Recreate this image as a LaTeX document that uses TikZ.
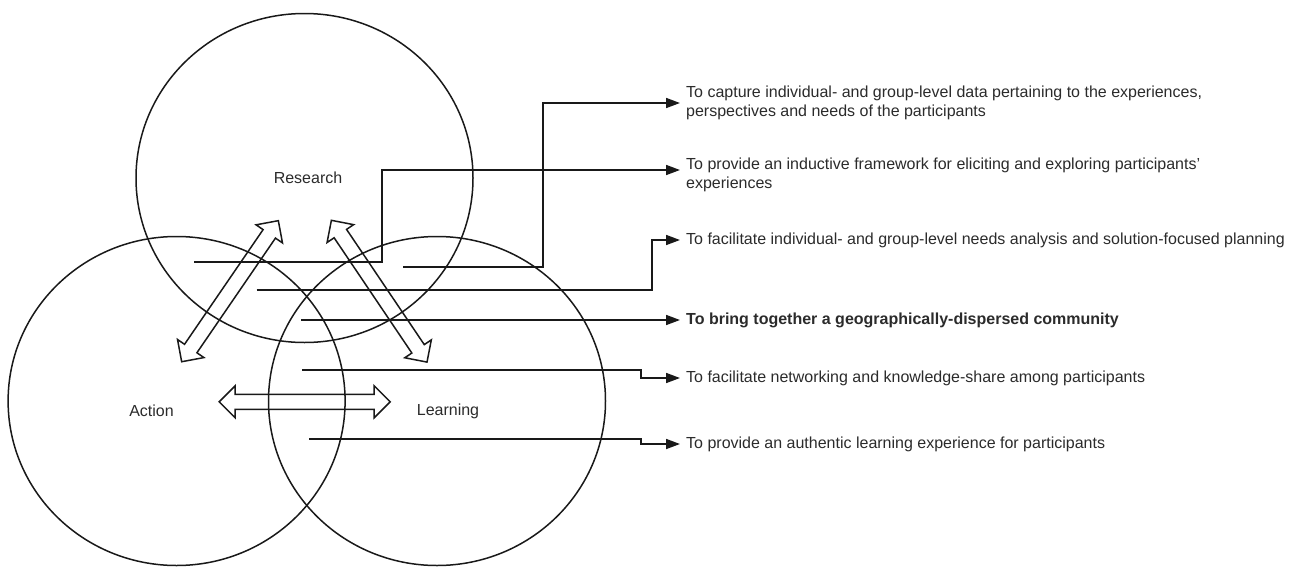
\documentclass[tikz,border=0pt]{standalone}
\usepackage{fontspec}
\setmainfont{Liberation Sans}
\usetikzlibrary{arrows.meta,shapes.geometric}
\definecolor{txt}{HTML}{2B2B2B}
\begin{document}
\begin{tikzpicture}[x=1pt,y=-1pt,
  ring/.style={ellipse, draw=black!90, line width=1.5pt, minimum width=337pt, minimum height=329pt, inner sep=0pt},
  lbl/.style={font=\fontsize{16}{19}\selectfont, text=txt, inner sep=0pt},
  goal/.style={anchor=west, font=\fontsize{16}{19}\selectfont, text=txt, inner xsep=6pt, inner ysep=0pt, align=left},
  conn/.style={draw=black!90, line width=1.7pt, -{Triangle[length=14pt,width=10pt]}},
  hollowarrow/.pic={\draw[line width=1.5pt, black!90, line join=miter]
    (-85.5pt,0pt) -- (-69.5pt,16pt) -- (-69.5pt,7.5pt) -- (69.5pt,7.5pt) -- (69.5pt,16pt) -- (85.5pt,0pt)
    -- (69.5pt,-16pt) -- (69.5pt,-7.5pt) -- (-69.5pt,-7.5pt) -- (-69.5pt,-16pt) -- cycle;}
]
\useasboundingbox (0,0) rectangle (1291,568);

% circles
\node[ring] (research) at (304.5,178) {};
\node[ring] (action) at (176.6,401) {};
\node[ring] (learning) at (437,401) {};

\node[lbl] (lres) at (308,177.5) {Research};
\node[lbl] (lact) at (151.5,411) {Action};
\node[lbl] (llea) at (448,411) {Learning};

% hollow double arrows
\pic (ha1) [rotate=55.58] at (230,291.2) {hollowarrow};
\pic (ha2) [rotate=124] at (379.2,291.2) {hollowarrow};
\pic (ha3) at (304.7,401.8) {hollowarrow};

% goal texts
\node[goal] (t1) at (680,103) {To capture individual- and group-level data pertaining to the experiences,\\perspectives and needs of the participants};
\node[goal] (t2) at (680,175) {To provide an inductive framework for eliciting and exploring participants’\\experiences};
\node[goal] (t3) at (680,240) {To facilitate individual- and group-level needs analysis and solution-focused planning};
\node[goal, font=\fontsize{16}{19}\selectfont\bfseries] (t4) at (680,320) {To bring together a geographically-dispersed community};
\node[goal] (t5) at (680,378) {To facilitate networking and knowledge-share among participants};
\node[goal] (t6) at (680,444) {To provide an authentic learning experience for participants};

% connector start and bend points
\coordinate (s1) at (194,261.7);
\coordinate (k1) at (381.7,170);
\coordinate (s2) at (403,266.7);
\coordinate (k2) at (542.7,103);
\coordinate (s3) at (256.7,290);
\coordinate (k3) at (651.7,240);
\coordinate (s4) at (301,320);
\coordinate (s5) at (302,370);
\coordinate (k5) at (641,378);
\coordinate (s6) at (309.3,439.3);
\coordinate (k6) at (641,444);

\draw[conn] (s1) -| (k1) -- ([yshift=5pt]t2.west);
\draw[conn] (s2) -| (k2) -- (t1.west);
\draw[conn] (s3) -| (k3) -- (t3.west);
\draw[conn] (s4) -- (t4.west);
\draw[conn] (s5) -| (k5) -- (t5.west);
\draw[conn] (s6) -| (k6) -- (t6.west);
\end{tikzpicture}
\end{document}
